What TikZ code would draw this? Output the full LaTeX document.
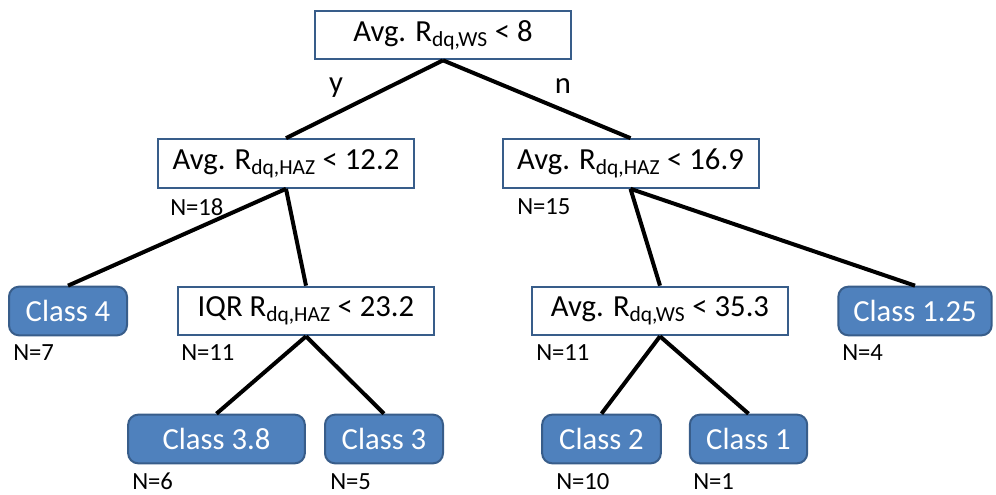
\documentclass[tikz,border=0pt]{standalone}
\usepackage{fontspec}
\setmainfont{Carlito}
\usetikzlibrary{positioning}
\definecolor{leafblue}{HTML}{4F81BD}
\definecolor{rimblue}{HTML}{385D8A}
\tikzset{
	test/.style={draw=rimblue, line width=1.5pt, fill=white, inner sep=0pt,
		minimum width=192pt, minimum height=36.5pt, font=\fontsize{23}{26}\selectfont},
	leaf/.style={draw=rimblue, line width=1.5pt, fill=leafblue, text=white, inner sep=0pt,
		rounded corners=7.5pt, minimum height=36.5pt, font=\fontsize{23}{26}\selectfont},
	nlab/.style={anchor=base west, inner sep=0pt, font=\fontsize{18.5}{20}\selectfont},
	yn/.style={inner sep=0pt, font=\fontsize{23}{26}\selectfont},
	branch/.style={line width=3pt},
}

\begin{document}
\begin{tikzpicture}[x=0.75pt, y=-0.75pt]
		%%%%% frame %%%%%
		\fill[white] (0,0) rectangle (996,495);
		\useasboundingbox (0,0) rectangle (996,495);
		
		%%%%% split nodes %%%%%
		\node[test] (root) at (443,35) {Avg. R\textsubscript{dq,WS} < 8};
		\node[test] (hazl) at (286,163.5) {Avg. R\textsubscript{dq,HAZ} < 12.2};
		\node[test] (hazr) at (630.5,163.5) {Avg. R\textsubscript{dq,HAZ} < 16.9};
		\node[test] (iqr) at (306,311) {IQR R\textsubscript{dq,HAZ} < 23.2};
		\node[test] (ws) at (660,311) {Avg. R\textsubscript{dq,WS} < 35.3};
		
		%%%%% classes %%%%%
		\node[leaf, minimum width=88.5pt] (c4) at (68,311) {Class 4};
		\node[leaf, minimum width=115pt] (c125) at (915,311) {Class 1.25};
		\node[leaf, minimum width=132.5pt] (c38) at (216.5,439) {Class 3.8};
		\node[leaf, minimum width=88.5pt] (c3) at (384,439) {Class 3};
		\node[leaf, minimum width=89pt] (c2) at (601.5,439) {Class 2};
		\node[leaf, minimum width=88pt] (c1) at (748.5,439) {Class 1};
		
		%%%%% branches %%%%%
		\draw[branch] (root.south) -- (hazl.north);
		\draw[branch] (root.south) -- (hazr.north);
		\draw[branch] (hazl.south) -- (c4.north);
		\draw[branch] (hazl.south) -- (iqr.north);
		\draw[branch] (hazr.south) -- (ws.north);
		\draw[branch] (hazr.south) -- (c125.north);
		\draw[branch] (iqr.south) -- (c38.north);
		\draw[branch] (iqr.south) -- (c3.north);
		\draw[branch] (ws.south) -- (c2.north);
		\draw[branch] (ws.south) -- (c1.north);
		
		\node[yn] (yes) at (336,88) {y};
		\node[yn] (no) at (563,86) {n};
		
		%%%%% counts %%%%%
		\node[nlab] (n18) at (170,216) {N=18};
		\node[nlab] (n15) at (517,215) {N=15};
		\node[nlab] (n7) at (13,360) {N=7};
		\node[nlab] (n11a) at (181,360) {N=11};
		\node[nlab] (n11b) at (536,360) {N=11};
		\node[nlab] (n4) at (842,360) {N=4};
		\node[nlab] (n6) at (132,489) {N=6};
		\node[nlab] (n5) at (330,489) {N=5};
		\node[nlab] (n10) at (556,489) {N=10};
		\node[nlab] (n1) at (693,489) {N=1};
\end{tikzpicture}
\end{document}
